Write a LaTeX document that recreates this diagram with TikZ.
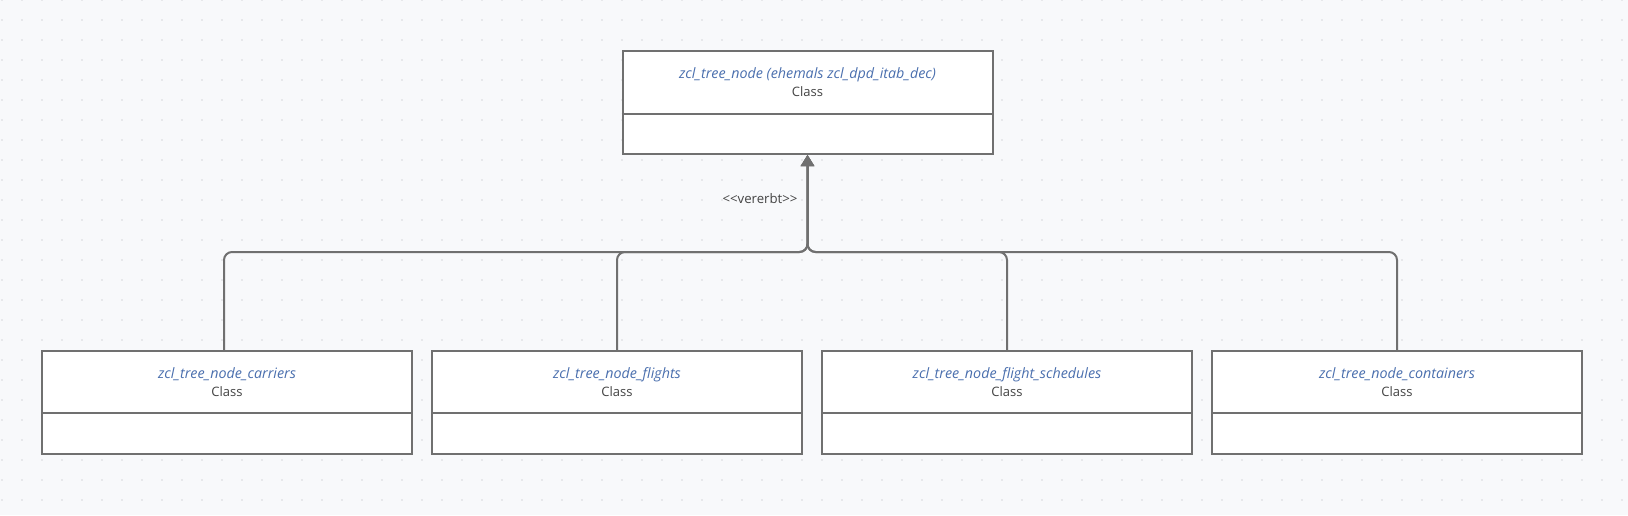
\documentclass[tikz,border=0pt]{standalone}
\usepackage{fontspec}
\setmainfont{Open Sans}
\usetikzlibrary{arrows.meta}
\definecolor{bg}{HTML}{F8F9FB}
\definecolor{dotc}{HTML}{D6D7DB}
\definecolor{linec}{HTML}{707070}
\definecolor{namec}{HTML}{4A6FAE}
\definecolor{textc}{HTML}{444444}
\newcommand{\clsname}[1]{\textcolor{namec}{\fontsize{14.3}{18}\selectfont\itshape #1}}
\tikzset{
  classbox/.style={draw=linec, line width=2pt, fill=white, minimum width=370pt, minimum height=103pt, anchor=north, inner sep=0pt},
  classtext/.style={align=center, font=\fontsize{13}{18}\selectfont, text=textc, inner sep=0pt},
  conn/.style={draw=linec, line width=2pt, rounded corners=8pt},
  inherit/.style={conn, -{Triangle[width=13pt,length=11pt,fill=linec]}},
  divider/.style={draw=linec, line width=2pt},
}
\begin{document}
\begin{tikzpicture}[x=1pt,y=-1pt]
\fill[bg] (0,0) rectangle (1628,515);
\useasboundingbox (0,0) rectangle (1628,515);
\foreach \i in {0,...,81}{\foreach \j in {0,...,25}{\fill[dotc] (2+20*\i,20*\j) circle (0.9pt);}}

% parent
\node[classbox] (p) at (807.5,50) {};
\draw[divider] ([yshift=-64pt]p.north west) -- ([yshift=-64pt]p.north east);
\node[classtext] (pt) at ([yshift=-32pt]p.north) {\clsname{zcl\_tree\_node (ehemals zcl\_dpd\_itab\_dec)}\\Class};

% children
\node[classbox] (c1) at (227,350) {};
\node[classbox] (c2) at (617,350) {};
\node[classbox] (c3) at (1007,350) {};
\node[classbox] (c4) at (1397,350) {};
\foreach \c in {c1,c2,c3,c4}{\draw[divider] ([yshift=-63pt]\c.north west) -- ([yshift=-63pt]\c.north east);}
\node[classtext] (t1) at ([yshift=-32pt]c1.north) {\clsname{zcl\_tree\_node\_carriers}\\Class};
\node[classtext] (t2) at ([yshift=-32pt]c2.north) {\clsname{zcl\_tree\_node\_flights}\\Class};
\node[classtext] (t3) at ([yshift=-32pt]c3.north) {\clsname{zcl\_tree\_node\_flight\_schedules}\\Class};
\node[classtext] (t4) at ([yshift=-32pt]c4.north) {\clsname{zcl\_tree\_node\_containers}\\Class};

% connectors
\coordinate (bus) at (0,252);
\coordinate (c1top) at ([xshift=-3pt]c1.north);
\draw[inherit] (c1top) -- (c1top |- bus) -- (p.south |- bus) -- (p.south);
\draw[inherit] (c2.north) -- (c2.north |- bus) -- (p.south |- bus) -- (p.south);
\draw[inherit] (c3.north) -- (c3.north |- bus) -- (p.south |- bus) -- (p.south);
\draw[inherit] (c4.north) -- (c4.north |- bus) -- (p.south |- bus) -- (p.south);

\node[font=\fontsize{13.2}{15}\selectfont, text=textc, inner sep=0pt] (lbl) at (760,199) {<{}<vererbt>{}>};
\end{tikzpicture}
\end{document}
